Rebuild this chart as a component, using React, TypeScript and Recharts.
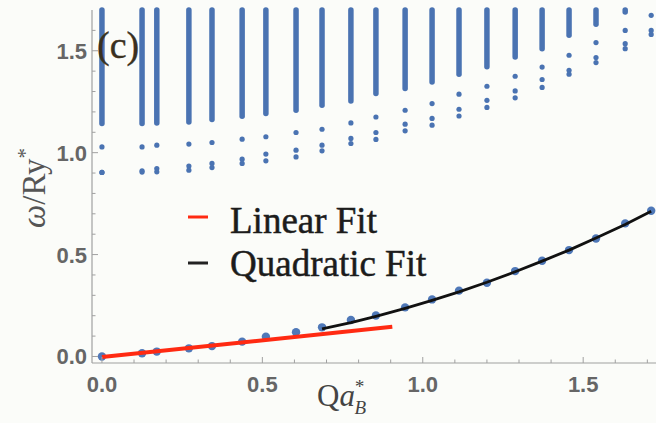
import React from "react";
import {
  ComposedChart,
  Scatter,
  XAxis,
  YAxis,
  ReferenceLine,
  Legend,
} from "recharts";

// Momentum values of each column (Q a_B^*)
const qValues = [0, 0.125, 0.171, 0.271, 0.343, 0.437, 0.511, 0.605, 0.686, 0.776, 0.854, 0.945, 1.029, 1.113, 1.2, 1.288, 1.372, 1.456, 1.54, 1.631, 1.712];
// lowest branch (collective mode)
const lowBranch = [0, 0.016, 0.024, 0.04, 0.051, 0.073, 0.097, 0.119, 0.143, 0.179, 0.201, 0.241, 0.28, 0.323, 0.362, 0.419, 0.47, 0.522, 0.579, 0.653, 0.715];
// bottom of dense continuum for each column
const continuumBottom = [1.143, 1.143, 1.146, 1.151, 1.163, 1.179, 1.192, 1.208, 1.233, 1.254, 1.29, 1.315, 1.347, 1.385, 1.421, 1.47, 1.51, 1.576, 1.63, 1.69, 1.72];
const continuumTop = 1.7;
// isolated states below continuum
const boundUpper = [1.028, 1.028, 1.037, 1.042, 1.05, 1.066, 1.078, 1.099, 1.115, 1.146, 1.175, 1.208, 1.241, 1.287, 1.326, 1.375, 1.42, 1.478, 1.54, 1.6, 1.674];
const boundMidA = [0.903, 0.911, 0.922, 0.934, 0.947, 0.968, 0.993, 1.012, 1.037, 1.07, 1.099, 1.14, 1.168, 1.213, 1.257, 1.303, 1.359, 1.404, 1.467, 1.535, 1.6];
const boundMidB = [0.903, 0.905, 0.906, 0.914, 0.927, 0.947, 0.96, 0.979, 1.009, 1.045, 1.065, 1.107, 1.135, 1.18, 1.222, 1.269, 1.32, 1.385, 1.442, 1.51, 1.58];

// fits
const linearFitX = [0, 0.905];
const linearFitY = [-0.003, 0.146];
const quadFitX = [0.686, 0.776, 0.854, 0.945, 1.029, 1.113, 1.2, 1.288, 1.372, 1.456, 1.54, 1.631, 1.712];
const quadFitY = [0.135, 0.166, 0.197, 0.236, 0.275, 0.317, 0.364, 0.416, 0.468, 0.522, 0.581, 0.648, 0.712];

const xTicks = [0, 0.1, 0.2, 0.3, 0.4, 0.5, 0.6, 0.7, 0.8, 0.9, 1.0, 1.1, 1.2, 1.3, 1.4, 1.5, 1.6, 1.7];
const yTicks = [0, 0.1, 0.2, 0.3, 0.4, 0.5, 0.6, 0.7, 0.8, 0.9, 1.0, 1.1, 1.2, 1.3, 1.4, 1.5, 1.6];

const legendLabels = ["Linear Fit", "Quadratic Fit"];
const legendColors = ["#ff2a12", "#222"];

const lowData = qValues.map((x, i) => ({ x, y: lowBranch[i] }));
const boundData = [
  ...qValues.map((x, i) => ({ x, y: boundUpper[i] })),
  ...qValues.map((x, i) => ({ x, y: boundMidA[i] })),
  ...qValues.map((x, i) => ({ x, y: boundMidB[i] })),
];
const linData = linearFitX.map((x, i) => ({ x, y: linearFitY[i] }));
const quadData = quadFitX.map((x, i) => ({ x, y: quadFitY[i] }));

const BLUE = "#4a73b2";
const AXIS = "#a0a0a0";
const TICKTXT = "#666";

const isMajor = (v: number) => Math.abs(v * 2 - Math.round(v * 2)) < 1e-6;

const BottomTick = (props: any) => {
  const { x, y, payload } = props;
  const v = payload.value;
  const major = isMajor(v);
  return (
    <g>
      <line x1={x} x2={x} y1={y} y2={y - (major ? 6 : 3.5)} stroke={AXIS} strokeWidth={1} />
      {major && (
        <text x={x} y={y + 29} textAnchor="middle" fill={TICKTXT} fontSize={22} fontWeight="bold" fontFamily="Liberation Sans, Arial, sans-serif">
          {v.toFixed(1)}
        </text>
      )}
    </g>
  );
};

const TopTick = (props: any) => {
  const { x, y, payload } = props;
  const major = isMajor(payload.value);
  return <line x1={x} x2={x} y1={y} y2={y + (major ? 6 : 3.5)} stroke={AXIS} strokeWidth={1} />;
};

const LeftTick = (props: any) => {
  const { x, y, payload } = props;
  const v = payload.value;
  const major = isMajor(v);
  return (
    <g>
      <line x1={x} x2={x + (major ? 6 : 3.5)} y1={y} y2={y} stroke={AXIS} strokeWidth={1} />
      {major && (
        <text x={x - 5} y={y + 8} textAnchor="end" fill={TICKTXT} fontSize={22} fontWeight="bold" fontFamily="Liberation Sans, Arial, sans-serif">
          {v.toFixed(1)}
        </text>
      )}
    </g>
  );
};

const LegendBox = () => (
  <svg width={270} height={90}>
    {legendLabels.map((lab, i) => (
      <g key={lab}>
        <line x1={3} x2={23} y1={17 + i * 46} y2={17 + i * 46} stroke={legendColors[i]} strokeWidth={3} />
        <text x={45} y={33 + i * 43} fontSize={37} fill="#1c1c1c" stroke="#1c1c1c" strokeWidth={0.5} fontFamily="Liberation Serif, serif">{lab}</text>
      </g>
    ))}
  </svg>
);

const noShape = () => <g />;

export default function App() {
  return (
    <div style={{ position: "absolute", left: 0, top: 0, width: 656, height: 423, background: "#fbfcf9", overflow: "hidden" }}>
      <ComposedChart width={656} height={423} margin={{ top: 10, right: 0, bottom: 0, left: 0 }}>
        <XAxis
          type="number"
          dataKey="x"
          domain={[-0.031, 1.727]}
          allowDataOverflow
          ticks={xTicks}
          tickSize={0}
          tickMargin={0}
          tickLine={false}
          height={60}
          axisLine={{ stroke: AXIS, strokeWidth: 1.2 }}
          tick={<BottomTick />}
          interval={0}
        />
        <XAxis
          xAxisId="top"
          orientation="top"
          type="number"
          dataKey="x"
          domain={[-0.031, 1.727]}
          allowDataOverflow
          ticks={xTicks}
          tickSize={0}
          tickMargin={0}
          tickLine={false}
          height={0}
          axisLine={{ stroke: AXIS, strokeWidth: 1.2 }}
          tick={<TopTick />}
          interval={0}
        />
        <YAxis
          type="number"
          dataKey="y"
          domain={[-0.032, 1.7]}
          allowDataOverflow
          ticks={yTicks}
          tickSize={0}
          tickMargin={0}
          tickLine={false}
          width={92}
          axisLine={{ stroke: AXIS, strokeWidth: 1.2 }}
          tick={<LeftTick />}
          interval={0}
        />
        {qValues.map((x, i) =>
          continuumBottom[i] < continuumTop ? (
            <ReferenceLine
              key={"c" + i}
              segment={[{ x, y: continuumBottom[i] }, { x, y: continuumTop }]}
              stroke={BLUE}
              strokeWidth={5.5}
              strokeLinecap="round"
              ifOverflow="visible"
            />
          ) : null
        )}
        <Scatter data={boundData} dataKey="y" fill={BLUE} isAnimationActive={false} shape={(p: any) => <circle cx={p.cx} cy={p.cy} r={2.6} fill={BLUE} />} />
        <Scatter data={lowData} dataKey="y" fill={BLUE} isAnimationActive={false} shape={(p: any) => <circle cx={p.cx} cy={p.cy} r={4.2} fill="#4f78b8" />} />
        <Scatter data={linData} dataKey="y" isAnimationActive={false} line={{ stroke: "#ff2a12", strokeWidth: 4 }} shape={noShape} />
        <Scatter data={quadData} dataKey="y" isAnimationActive={false} line={{ stroke: "#111", strokeWidth: 2.8 }} lineType="joint" shape={noShape} />
        <Legend
          layout="horizontal"
          verticalAlign="middle"
          align="center"
          content={<LegendBox />}
          wrapperStyle={{ position: "absolute", left: 185, top: 200, width: 270, height: 90 }}
        />
      </ComposedChart>
      <svg width={656} height={423} style={{ position: "absolute", left: 0, top: 0, pointerEvents: "none" }}>
        <text x={97} y={58} fontSize={38} fill="#3a3020" stroke="#3a3020" strokeWidth={0.4} fontFamily="Liberation Serif, serif">(c)</text>
        <g transform="translate(45,188) rotate(-90)">
          <text x={0} y={0} textAnchor="middle" fontSize={33} fill="#555" fontFamily="Liberation Serif, serif">
            <tspan fontStyle="italic">ω</tspan>
            <tspan>/Ry</tspan>
            <tspan fontSize={21} dy={-13}>*</tspan>
          </text>
        </g>
        <text x={317} y={406} fontSize={31} fill="#444" fontFamily="Liberation Serif, serif">
          <tspan>Q</tspan>
          <tspan fontStyle="italic">a</tspan>
          <tspan fontSize={19} fontStyle="italic" dy={-13} dx={-1}>*</tspan>
          <tspan fontSize={19} fontStyle="italic" dy={21} dx={-9}>B</tspan>
        </text>
      </svg>
    </div>
  );
}
